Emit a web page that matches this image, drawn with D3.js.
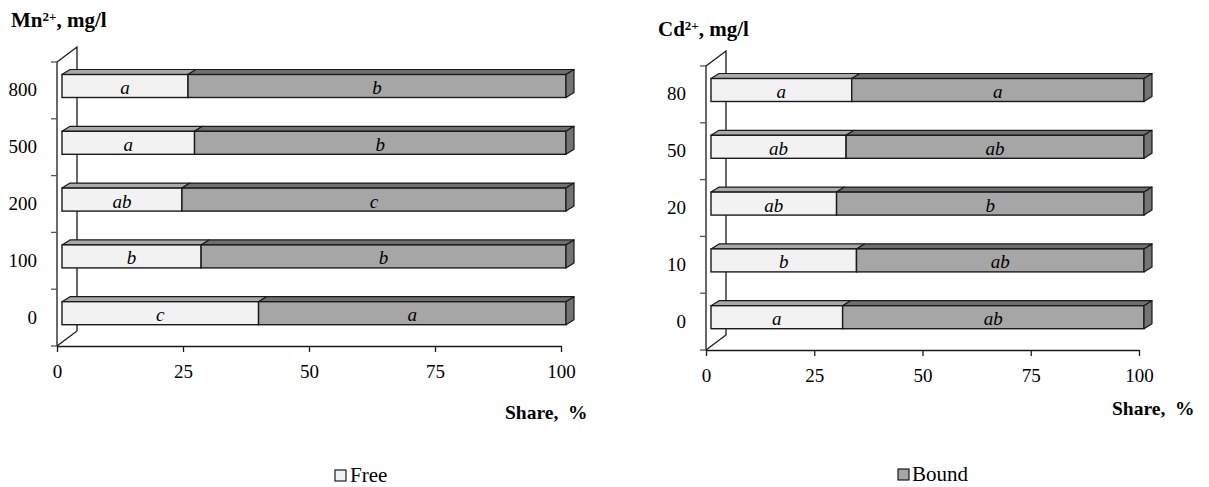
<!DOCTYPE html>
<html>
<head>
<meta charset="utf-8">
<script src="https://cdn.jsdelivr.net/npm/d3@7"></script>
<style>
  html, body { margin: 0; padding: 0; background: #ffffff; }
  svg { display: block; }
</style>
</head>
<body>
<svg id="chart" width="1209" height="487"></svg>
<script>
// ---------- DATA ----------
const mnCategories = ["0", "100", "200", "500", "800"];
const mnFree = [39.0, 27.6, 23.8, 26.3, 25.0];
const mnBound = [61.0, 72.4, 76.2, 73.7, 75.0];
const mnFreeLetters = ["c", "b", "ab", "a", "a"];
const mnBoundLetters = ["a", "b", "c", "b", "b"];

const cdCategories = ["0", "10", "20", "50", "80"];
const cdFree = [30.4, 33.6, 29.0, 31.2, 32.5];
const cdBound = [69.6, 66.4, 71.0, 68.8, 67.5];
const cdFreeLetters = ["a", "b", "ab", "ab", "a"];
const cdBoundLetters = ["ab", "ab", "b", "ab", "a"];

const xTicks = [0, 25, 50, 75, 100];
const seriesNames = ["Free", "Bound"];

// ---------- STYLE ----------
const FONT = "'Liberation Serif', 'Tinos', 'Times New Roman', serif";
const colors = {
  Free:  { front: "#f2f2f2", top: "#a9a9a9", side: "#b5b5b5" },
  Bound: { front: "#a6a6a6", top: "#6f6f6f", side: "#737373" }
};
const strokeColor = "#1a1a1a";

const svg = d3.select("#chart");

function styleText(sel, size, extra) {
  sel.style("font-family", FONT).style("font-size", size + "px").style("fill", "#000");
  if (extra) Object.entries(extra).forEach(([k, v]) => sel.style(k, v));
  return sel;
}

function drawChart(cfg) {
  const g = svg.append("g");
  const x = d3.scaleLinear().domain([0, 100]).range([cfg.x0, cfg.x1]);
  const y = d3.scaleBand().domain(cfg.categories).range([cfg.yBot, cfg.yTop]);
  const bw = y.bandwidth();
  const wall = { dx: 20, dy: -15 };
  const shift = { dx: 5, dy: -4.4 };
  const depth = { dx: 8, dy: -5 };
  const barH = 23;

  // back wall (drawn first, bars cover it)
  g.append("path")
    .attr("d", `M${cfg.x0},${cfg.yTop} L${cfg.x0 + wall.dx},${cfg.yTop + wall.dy} L${cfg.x0 + wall.dx},${cfg.yBot + wall.dy} L${cfg.x0},${cfg.yBot}`)
    .attr("fill", "none").attr("stroke", strokeColor).attr("stroke-width", 1.3);

  // y axis line + boundary ticks
  g.append("line").attr("x1", cfg.x0).attr("x2", cfg.x0)
    .attr("y1", cfg.yTop).attr("y2", cfg.yBot)
    .attr("stroke", strokeColor).attr("stroke-width", 1.3);
  const bounds = cfg.categories.map(c => y(c)).concat([cfg.yBot]);
  g.selectAll(".ytick").data(bounds).enter().append("line")
    .attr("x1", cfg.x0 - 6).attr("x2", cfg.x0)
    .attr("y1", d => d).attr("y2", d => d)
    .attr("stroke", "#555").attr("stroke-width", 1.3);

  // y labels via axis
  const yAxis = d3.axisLeft(y).tickSize(0).tickPadding(20);
  const ya = g.append("g").attr("transform", `translate(${cfg.x0},0)`).call(yAxis);
  ya.select(".domain").remove();
  styleText(ya.selectAll("text"), 19);

  // x axis
  const xAxis = d3.axisBottom(x).tickValues(xTicks).tickSize(6).tickSizeOuter(0).tickPadding(13);
  const xa = g.append("g").attr("transform", `translate(0,${cfg.yBot})`).call(xAxis);
  xa.select(".domain").attr("stroke", strokeColor).attr("stroke-width", 1.3);
  xa.selectAll(".tick line").attr("stroke", strokeColor).attr("stroke-width", 1.3);
  styleText(xa.selectAll("text"), 19);

  // bars
  const rows = cfg.categories.map((c, i) => ({
    cat: c,
    segs: [
      { name: "Free", v0: 0, v1: cfg.free[i], letter: cfg.freeLetters[i] },
      { name: "Bound", v0: cfg.free[i], v1: cfg.free[i] + cfg.bound[i], letter: cfg.boundLetters[i] }
    ]
  }));

  rows.forEach(r => {
    const yt = y(r.cat) + bw / 2 - barH / 2 + shift.dy;
    const yb = yt + barH;
    const bg = g.append("g");
    r.segs.forEach((s, si) => {
      const xa0 = x(s.v0) + shift.dx, xa1 = x(s.v1) + shift.dx;
      const col = colors[s.name];
      bg.append("path")
        .attr("d", `M${xa0},${yt} L${xa1},${yt} L${xa1 + depth.dx},${yt + depth.dy} L${xa0 + depth.dx},${yt + depth.dy} Z`)
        .attr("fill", col.top).attr("stroke", strokeColor).attr("stroke-width", 1.2).attr("stroke-linejoin", "round");
      bg.append("rect")
        .attr("x", xa0).attr("y", yt).attr("width", xa1 - xa0).attr("height", barH)
        .attr("fill", col.front).attr("stroke", strokeColor).attr("stroke-width", 1.4);
      if (si === r.segs.length - 1) {
        bg.append("path")
          .attr("d", `M${xa1},${yt} L${xa1 + depth.dx},${yt + depth.dy} L${xa1 + depth.dx},${yb + depth.dy} L${xa1},${yb} Z`)
          .attr("fill", col.side).attr("stroke", strokeColor).attr("stroke-width", 1.2).attr("stroke-linejoin", "round");
      }
      styleText(bg.append("text")
        .attr("x", (xa0 + xa1) / 2).attr("y", (yt + yb) / 2 + 8)
        .attr("text-anchor", "middle"), 19, { "font-style": "italic" })
        .text(s.letter);
    });
  });

  // title
  const t = styleText(g.append("text").attr("x", cfg.titleX).attr("y", cfg.titleY), 21, { "font-weight": "bold" });
  t.append("tspan").text(cfg.ion);
  t.append("tspan").attr("dy", -6).style("font-size", "13px").text("2+");
  t.append("tspan").attr("dy", 6).text(", mg/l");

  // x-axis title
  styleText(g.append("text").attr("x", cfg.shareX).attr("y", cfg.shareY), 19.5,
    { "font-weight": "bold", "white-space": "pre" })
    .text("Share,  %");
}

drawChart({
  categories: mnCategories, free: mnFree, bound: mnBound,
  freeLetters: mnFreeLetters, boundLetters: mnBoundLetters,
  x0: 57, x1: 561, yTop: 62, yBot: 346,
  ion: "Mn", titleX: 11, titleY: 27, shareX: 505, shareY: 419
});
drawChart({
  categories: cdCategories, free: cdFree, bound: cdBound,
  freeLetters: cdFreeLetters, boundLetters: cdBoundLetters,
  x0: 706, x1: 1139, yTop: 66, yBot: 350,
  ion: "Cd", titleX: 658, titleY: 36, shareX: 1112, shareY: 415
});

// legend
const legend = [
  { name: seriesNames[0], bx: 335, by: 470, tx: 350, ty: 482 },
  { name: seriesNames[1], bx: 898, by: 469, tx: 912, ty: 481 }
];
legend.forEach(l => {
  svg.append("rect").attr("x", l.bx).attr("y", l.by).attr("width", 11).attr("height", 11)
    .attr("fill", colors[l.name].front).attr("stroke", strokeColor).attr("stroke-width", 1.2);
  styleText(svg.append("text").attr("x", l.tx).attr("y", l.ty), 21).text(l.name);
});
</script>
</body>
</html>
